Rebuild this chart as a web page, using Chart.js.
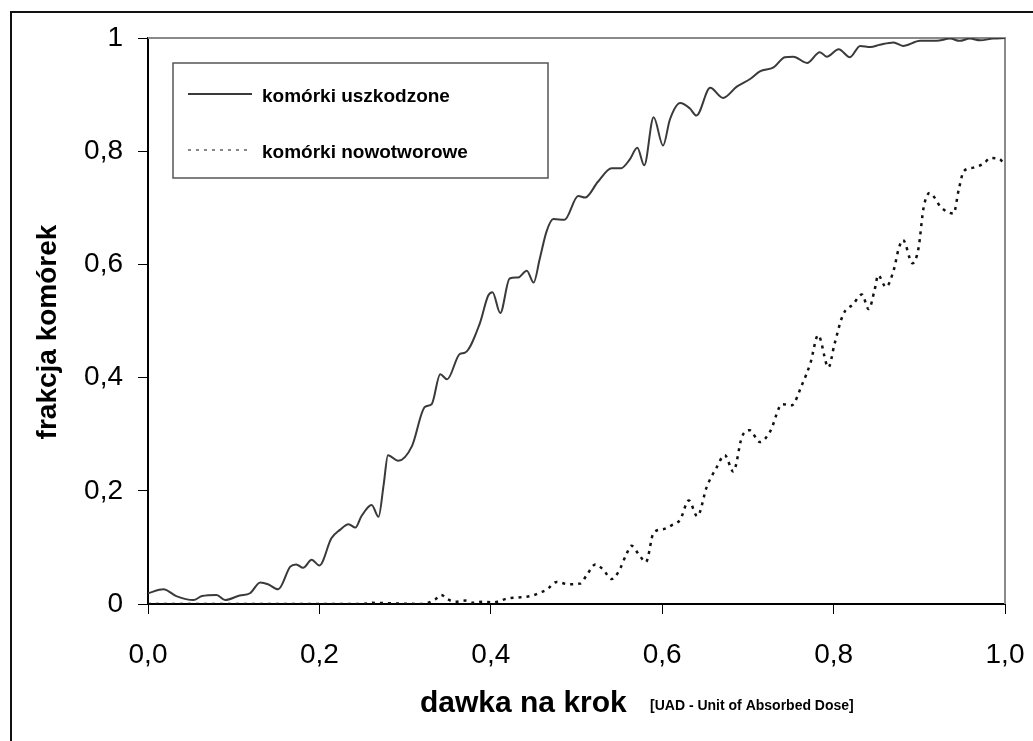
<!DOCTYPE html>
<html>
<head>
<meta charset="utf-8">
<script src="https://cdn.jsdelivr.net/npm/chart.js@4.4.1/dist/chart.umd.min.js"></script>
<style>
  body { margin:0; background:#fff; }
  #wrap { position:relative; width:1033px; height:741px; }
  #frame { position:absolute; left:10px; top:11px; right:0; bottom:0; border-left:2px solid #111; border-top:2px solid #111; pointer-events:none; }
</style>
</head>
<body>
<div id="wrap">
  <canvas id="c" width="1033" height="741"></canvas>
  <div id="frame"></div>
</div>
<script>
// dose per step (x) and fraction of cells (y)
var doseDamaged = [0.000,0.018,0.033,0.053,0.063,0.080,0.090,0.107,0.119,0.131,0.140,0.152,0.166,0.173,0.181,0.191,0.200,0.214,0.224,0.234,0.242,0.249,0.261,0.269,0.275,0.280,0.292,0.308,0.323,0.331,0.341,0.349,0.364,0.370,0.387,0.397,0.402,0.411,0.422,0.432,0.442,0.450,0.457,0.465,0.473,0.486,0.502,0.510,0.525,0.541,0.552,0.562,0.571,0.579,0.590,0.601,0.609,0.621,0.632,0.640,0.656,0.671,0.687,0.703,0.714,0.730,0.743,0.753,0.769,0.784,0.792,0.806,0.819,0.831,0.843,0.854,0.870,0.881,0.901,0.920,0.936,0.947,0.959,0.971,0.986,1.000];
var fracDamaged = [0.019,0.026,0.014,0.007,0.014,0.016,0.007,0.015,0.019,0.038,0.035,0.026,0.066,0.070,0.064,0.078,0.068,0.116,0.131,0.141,0.135,0.155,0.175,0.154,0.211,0.263,0.253,0.279,0.348,0.353,0.406,0.397,0.442,0.444,0.495,0.545,0.551,0.514,0.575,0.577,0.589,0.568,0.609,0.658,0.680,0.679,0.721,0.718,0.746,0.770,0.770,0.785,0.806,0.775,0.860,0.810,0.856,0.885,0.876,0.863,0.912,0.894,0.914,0.928,0.941,0.948,0.966,0.967,0.956,0.975,0.967,0.980,0.966,0.986,0.984,0.988,0.992,0.986,0.995,0.995,0.999,0.995,0.999,0.996,0.999,1.000];

var doseTumor = [0.000,0.250,0.260,0.290,0.320,0.335,0.342,0.350,0.358,0.370,0.380,0.390,0.403,0.420,0.435,0.449,0.457,0.465,0.477,0.490,0.504,0.512,0.522,0.531,0.541,0.549,0.558,0.564,0.573,0.581,0.590,0.601,0.611,0.621,0.631,0.641,0.652,0.663,0.673,0.683,0.693,0.702,0.714,0.726,0.740,0.751,0.763,0.773,0.782,0.794,0.801,0.811,0.823,0.833,0.841,0.848,0.852,0.861,0.870,0.876,0.881,0.892,0.899,0.905,0.912,0.926,0.940,0.946,0.952,0.963,0.975,0.983,0.994,0.997];
var fracTumor = [0.000,0.000,0.002,0.001,0.000,0.008,0.016,0.008,0.004,0.006,0.002,0.004,0.003,0.010,0.012,0.015,0.020,0.025,0.039,0.035,0.036,0.051,0.070,0.061,0.044,0.057,0.087,0.103,0.087,0.074,0.126,0.132,0.139,0.149,0.183,0.155,0.207,0.240,0.263,0.234,0.295,0.307,0.286,0.305,0.353,0.351,0.387,0.426,0.475,0.418,0.459,0.511,0.530,0.547,0.521,0.556,0.581,0.560,0.589,0.628,0.643,0.602,0.628,0.700,0.726,0.700,0.690,0.732,0.765,0.771,0.778,0.788,0.786,0.781];

var seriesNames = ["komórki uszkodzone", "komórki nowotworowe"];
var xTicks = [0, 0.2, 0.4, 0.6, 0.8, 1.0];
var yTicks = [0, 0.2, 0.4, 0.6, 0.8, 1];

function pts(xs, ys){
  var out = [];
  for (var i=0; i<xs.length; i++){ out.push({x: xs[i], y: ys[i]}); }
  return out;
}

// frame, titles and the boxed legend
var decor = {
  id: 'decor',
  beforeDatasetsDraw: function(chart){
    var ctx = chart.ctx, a = chart.chartArea;
    ctx.save();
    ctx.strokeStyle = '#8a8a8a';
    ctx.lineWidth = 2;
    ctx.beginPath();
    ctx.moveTo(a.left, a.top); ctx.lineTo(a.right, a.top); ctx.lineTo(a.right, a.bottom);
    ctx.stroke();
    ctx.restore();
  },
  afterDraw: function(chart){
    var ctx = chart.ctx;
    ctx.save();
    ctx.fillStyle = '#000';
    // y title
    ctx.save();
    ctx.translate(48, 332);
    ctx.rotate(-Math.PI/2);
    ctx.font = 'bold 28px "Liberation Sans", Arial, sans-serif';
    ctx.textAlign = 'center';
    ctx.textBaseline = 'middle';
    ctx.fillText('frakcja komórek', 0, 0);
    ctx.restore();
    // x title
    ctx.textBaseline = 'alphabetic';
    ctx.textAlign = 'left';
    ctx.font = 'bold 30px "Liberation Sans", Arial, sans-serif';
    ctx.fillText('dawka na krok', 420, 712);
    ctx.font = 'bold 14px "Liberation Sans", Arial, sans-serif';
    ctx.fillText('[UAD - Unit of Absorbed Dose]', 650, 710);

    // legend box
    ctx.strokeStyle = '#555';
    ctx.lineWidth = 1.5;
    ctx.strokeRect(173, 63, 375, 115);
    var ds = chart.data.datasets;
    var rows = [94, 150];
    for (var i=0; i<ds.length; i++){
      ctx.beginPath();
      ctx.strokeStyle = ds[i].borderColor;
      ctx.lineWidth = i === 0 ? 2 : 1;
      ctx.setLineDash(i === 0 ? [] : [3,5]);
      ctx.moveTo(188, rows[i]); ctx.lineTo(252, rows[i]);
      ctx.stroke();
      ctx.setLineDash([]);
      ctx.font = 'bold 19px "Liberation Sans", Arial, sans-serif';
      ctx.textBaseline = 'middle';
      ctx.fillStyle = '#000';
      ctx.fillText(ds[i].label, 262, rows[i] + 3);
    }
    ctx.restore();
  }
};

new Chart(document.getElementById('c').getContext('2d'), {
  type: 'line',
  data: {
    datasets: [{
      label: seriesNames[0],
      data: pts(doseDamaged, fracDamaged),
      borderColor: '#3a3a3a',
      borderWidth: 2,
      pointRadius: 0,
      cubicInterpolationMode: 'monotone',
      fill: false
    },{
      label: seriesNames[1],
      data: pts(doseTumor, fracTumor),
      borderColor: '#111',
      borderWidth: 2.5,
      borderDash: [3,5],
      pointRadius: 0,
      cubicInterpolationMode: 'monotone',
      fill: false
    }]
  },
  options: {
    responsive: false,
    animation: false,
    layout: { padding: { top: 38, right: 28, left: 0, bottom: 0 } },
    plugins: { legend: { display: false }, tooltip: { enabled: false } },
    scales: {
      x: {
        type: 'linear', min: 0, max: 1,
        afterBuildTicks: function(s){ s.ticks = xTicks.map(function(v){ return {value: v}; }); },
        afterFit: function(s){ s.height = 137; s.paddingLeft = 0; s.paddingRight = 0; },
        grid: { drawOnChartArea: false, drawTicks: true, tickLength: 10, color: '#000', lineWidth: 1 },
        border: { display: true, color: '#000', width: 2 },
        ticks: {
          padding: 24, color: '#000', maxRotation: 0,
          font: { family: '"Liberation Sans", Arial, sans-serif', size: 28 },
          callback: function(v){ return v.toFixed(1).replace('.', ','); }
        }
      },
      y: {
        type: 'linear', min: 0, max: 1,
        afterBuildTicks: function(s){ s.ticks = yTicks.map(function(v){ return {value: v}; }); },
        afterFit: function(s){ s.width = 148; s.paddingTop = 0; s.paddingBottom = 0; },
        grid: { drawOnChartArea: false, drawTicks: true, tickLength: 10, color: '#000', lineWidth: 1 },
        border: { display: true, color: '#000', width: 2 },
        ticks: {
          padding: 15, color: '#000',
          font: { family: '"Liberation Sans", Arial, sans-serif', size: 28 },
          callback: function(v){ return (v === 0 || v === 1) ? String(v) : v.toFixed(1).replace('.', ','); }
        }
      }
    }
  },
  plugins: [decor]
});
</script>
</body>
</html>
